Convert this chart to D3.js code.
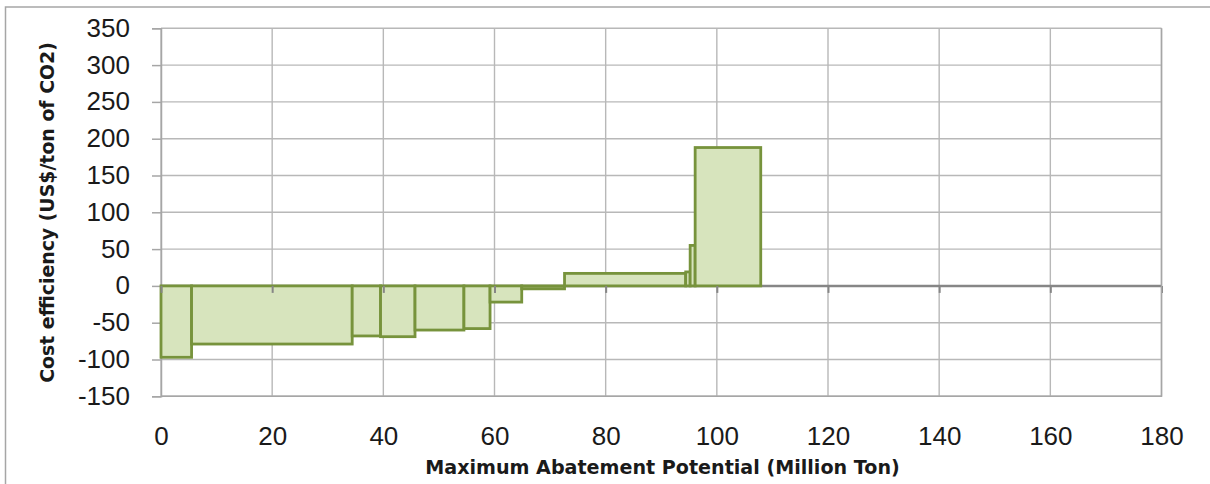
<!DOCTYPE html>
<html><head><meta charset="utf-8">
<script src="https://cdn.jsdelivr.net/npm/d3@7"></script>
<style>body{margin:0;background:#fff;overflow:hidden}</style>
</head><body>
<svg id="c" width="1210" height="484"></svg>
<script>
// Abatement measures: width = abatement potential (Million Ton), cost = US$/ton CO2
const potentials = [5.5, 28.9, 5.1, 6.2, 8.8, 4.7, 5.7, 7.7, 21.8, 0.8, 0.9, 11.8];
const costs      = [-97, -79, -68, -69, -60, -58, -22, -4, 17, 19, 55, 188];
const xTicks = [0, 20, 40, 60, 80, 100, 120, 140, 160, 180];
const yTicks = [-150, -100, -50, 0, 50, 100, 150, 200, 250, 300, 350];
const xTitle = "Maximum Abatement Potential (Million Ton)";
const yTitle = "Cost efficiency (US$/ton of CO2)";

const svg = d3.select("#c");
const W = 1210, H = 484;
const L = 161, R = 1161.5, T = 28.3, B = 396.3;
const x = d3.scaleLinear().domain([0, 180]).range([L, R]);
const y = d3.scaleLinear().domain([-150, 350]).range([B, T]);
const fmt = d => String(d);

let acc = 0;
const bars = potentials.map((w, i) => { const d = {x0: acc, x1: acc + w, v: costs[i]}; acc += w; return d; });

// outer frame (cut at right/bottom)
svg.append("path").attr("d", `M5.5,${H} L5.5,7 L${W},7`).attr("fill", "none")
  .attr("stroke", "#a6a6a6").attr("stroke-width", 1.5);

// gridlines
const grid = svg.append("g");
grid.selectAll("line.h").data(yTicks).join("line")
  .attr("x1", L).attr("x2", R).attr("y1", d => y(d)).attr("y2", d => y(d))
  .attr("stroke", "#b8b8b8").attr("stroke-width", 1.4);
grid.selectAll("line.v").data(xTicks).join("line")
  .attr("y1", T).attr("y2", B).attr("x1", d => x(d)).attr("x2", d => x(d))
  .attr("stroke", "#b8b8b8").attr("stroke-width", 1.4);

// y axis
const yAxis = svg.append("g").attr("transform", `translate(${L},0)`)
  .call(d3.axisLeft(y).tickValues(yTicks).tickSize(9).tickPadding(22).tickFormat(fmt));
yAxis.select(".domain").attr("stroke", "#a6a6a6").attr("stroke-width", 1.5);
yAxis.selectAll(".tick line").attr("stroke", "#a6a6a6").attr("stroke-width", 1.5);
yAxis.selectAll("text").attr("font-family", "'Liberation Sans', Arial, sans-serif")
  .attr("font-size", 26).attr("fill", "#1a1a1a").attr("dy", "0.31em");

// zero line (axis line under bars)
svg.append("line").attr("x1", L).attr("x2", R).attr("y1", y(0)).attr("y2", y(0))
  .attr("stroke", "#868686").attr("stroke-width", 2.5);

// bars
svg.append("g").selectAll("rect").data(bars).join("rect")
  .attr("x", d => x(d.x0)).attr("width", d => x(d.x1) - x(d.x0))
  .attr("y", d => Math.min(y(0), y(d.v))).attr("height", d => Math.abs(y(d.v) - y(0)))
  .attr("fill", "#d7e4bd").attr("stroke", "#77933c").attr("stroke-width", 2.8);

// x tick marks at zero line
const xTickAxis = svg.append("g").attr("transform", `translate(0,${y(0)})`)
  .call(d3.axisBottom(x).tickValues(xTicks).tickSize(7).tickFormat(""));
xTickAxis.select(".domain").remove();
xTickAxis.selectAll(".tick line").attr("stroke", "#868686").attr("stroke-width", 2);

// x labels at bottom
const xLab = svg.append("g").attr("transform", `translate(0,${B})`)
  .call(d3.axisBottom(x).tickValues(xTicks).tickSize(0).tickPadding(30).tickFormat(fmt));
xLab.select(".domain").remove();
xLab.selectAll("text").attr("font-family", "'Liberation Sans', Arial, sans-serif")
  .attr("font-size", 26).attr("fill", "#1a1a1a");

// plot border (right & bottom)
svg.append("path").attr("d", `M${L},${B} L${R},${B} L${R},${T}`).attr("fill", "none")
  .attr("stroke", "#a6a6a6").attr("stroke-width", 1.5);

function fit(sel, target) {
  const len = sel.node().getComputedTextLength();
  const fs = parseFloat(sel.attr("font-size"));
  sel.attr("font-size", fs * target / len);
}
const tf = "'DejaVu Sans', Verdana, sans-serif";
const xt = svg.append("text").text(xTitle).attr("x", (425 + 900) / 2).attr("y", 474)
  .attr("text-anchor", "middle").attr("font-family", tf).attr("font-weight", "bold")
  .attr("font-size", 18).attr("fill", "#1a1a1a");
fit(xt, 475);
const yt = svg.append("text").text(yTitle)
  .attr("transform", `translate(54,212.5) rotate(-90)`)
  .attr("text-anchor", "middle").attr("font-family", tf).attr("font-weight", "bold")
  .attr("font-size", 18).attr("fill", "#1a1a1a");
fit(yt, 341);
</script>
</body></html>
